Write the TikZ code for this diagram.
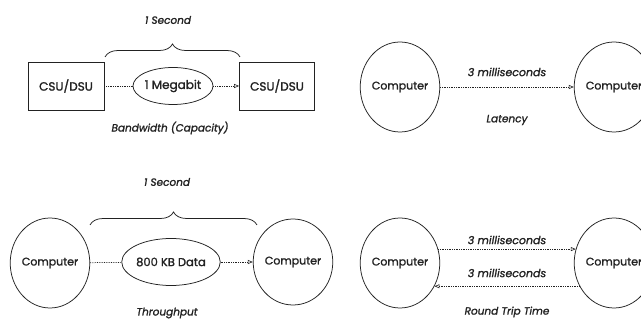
\documentclass[tikz,border=0pt]{standalone}
\usepackage{fontspec}
\setmainfont{Poppins}[FakeBold=1.4]
\usetikzlibrary{arrows.meta,decorations.pathreplacing,shapes.geometric}
\definecolor{ink}{HTML}{222222}
\tikzset{
  box/.style={draw=ink, line width=0.75pt, minimum width=76pt, minimum height=48pt, inner sep=0pt, font=\fontsize{12}{14}\selectfont, text=ink},
  pc/.style={draw=ink, line width=0.75pt, ellipse, minimum width=75pt, minimum height=90pt, inner sep=0pt, font=\fontsize{11}{13}\selectfont, text=ink},
  blob/.style={draw=ink, line width=0.75pt, ellipse, inner sep=0pt, font=\fontsize{11.5}{13}\selectfont, text=ink},
  lbl/.style={inner sep=0pt, font=\fontsize{10.5}{12}\selectfont\itshape, text=ink},
  link/.style={draw=ink, line width=0.75pt, densely dotted},
  arr/.style={link, -{Triangle[open, length=5pt, width=4pt, line width=0.6pt]}},
  brc/.style={draw=ink, line width=0.75pt, decorate, decoration={brace, amplitude=13pt}},
}
\begin{document}
\begin{tikzpicture}[x=1pt, y=-1pt]
\useasboundingbox[fill=white] (0,0) rectangle (641,320);
% top-left: bandwidth
\node[box] (b1) at (66,86) {CSU/DSU};
\node[blob, minimum width=80pt, minimum height=37pt, font=\fontsize{12}{14}\selectfont] (e1) at (173,86) {1 Megabit};
\node[box, minimum width=75pt] (b2) at (277,86) {CSU/DSU};
\draw[link] (b1) -- (e1);
\draw[arr] (e1) -- (b2);
\coordinate (br1a) at (105,57);
\coordinate (br1b) at (240,57);
\draw[brc] (br1a) -- (br1b);
\node[lbl] (s1) at (168,20) {1 Second};
\node[lbl] (bw) at (170,128) {Bandwidth (Capacity)};
% top-right: latency
\node[pc] (c1) at (400,87) {Computer};
\node[pc] (c2) at (614,87) {Computer};
\draw[arr] (c1) -- (c2);
\node[lbl, font=\fontsize{11}{13}\selectfont\itshape] (ms1) at (507,72) {3 milliseconds};
\node[lbl] (lat) at (507,120) {Latency};
% bottom-left: throughput
\node[pc] (c3) at (50,263) {Computer};
\node[blob, minimum width=95pt, minimum height=47pt] (e2) at (171,262) {800 KB Data};
\node[pc, minimum width=73pt, minimum height=86pt] (c4) at (293,262) {Computer};
\draw[link] (c3) -- (e2);
\draw[arr] (e2) -- (c4);
\coordinate (br2a) at (90,225);
\coordinate (br2b) at (257,225);
\draw[brc] (br2a) -- (br2b);
\node[lbl] (s2) at (167,182) {1 Second};
\node[lbl] (tp) at (167,313) {Throughput};
% bottom-right: round trip time
\node[pc] (c5) at (400,263) {Computer};
\node[pc] (c6) at (614,263) {Computer};
\draw[arr] (c5.20) -- (c6.160);
\draw[arr] (c6.-146) -- (c5.-34);
\node[lbl, font=\fontsize{11}{13}\selectfont\itshape] (ms2) at (507,240) {3 milliseconds};
\node[lbl, font=\fontsize{11}{13}\selectfont\itshape] (ms3) at (507,273) {3 milliseconds};
\node[lbl] (rtt) at (507,312) {Round Trip Time};
\end{tikzpicture}
\end{document}
